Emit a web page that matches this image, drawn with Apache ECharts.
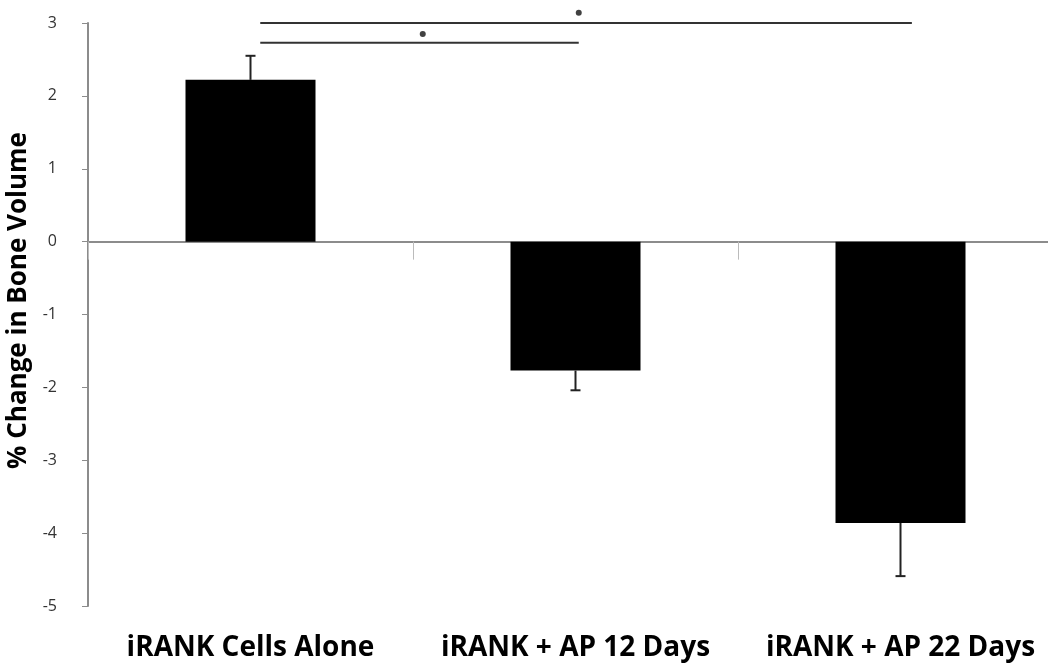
<!DOCTYPE html>
<html>
<head>
<meta charset="utf-8">
<script src="https://cdn.jsdelivr.net/npm/echarts@6/dist/echarts.min.js"></script>
<style>html,body{margin:0;padding:0;background:#fff;}#chart{width:1048px;height:666px;}</style>
</head>
<body>
<div id="chart"></div>
<script>
const categories = ['iRANK Cells Alone', 'iRANK + AP 12 Days', 'iRANK + AP 22 Days'];
const values = [2.22, -1.77, -3.86];
const errorEnds = [2.55, -2.04, -4.59];
const yMin = -5, yMax = 3, yStep = 1;
// significance brackets (x in category units, 0..3 across plot; y in data units)
const bracketFrom = [0.53, 0.53];
const bracketTo = [2.535, 1.51];
const bracketY = [3.0, 2.73];
const starX = [1.51, 1.03];
const starY = [3.14, 2.85];

const chart = echarts.init(document.getElementById('chart'));
const labelFont = '"Open Sans", "Liberation Sans", sans-serif';

const bracketSeries = bracketFrom.map((x0, i) => ({
  type: 'line', xAxisIndex: 2, yAxisIndex: 0, clip: false, symbol: 'none', silent: true,
  lineStyle: { color: '#333', width: 2 },
  data: [[x0, bracketY[i]], [bracketTo[i], bracketY[i]]]
}));

chart.setOption({
  animation: false,
  backgroundColor: '#fff',
  grid: { left: 88, width: 975, top: 23, bottom: 60, outerBoundsMode: 'none', containLabel: false },
  xAxis: [
    { type: 'category', data: categories, position: 'bottom',
      axisLine: { onZero: false, show: false }, axisTick: { show: false },
      axisLabel: { interval: 0, hideOverlap: false, margin: 28, fontSize: 28, fontWeight: 'bold', color: '#000', fontFamily: labelFont } },
    { type: 'category', data: categories, position: 'bottom',
      axisLine: { onZero: true, lineStyle: { color: '#8c8c8c', width: 2 } },
      axisTick: { show: true, alignWithLabel: false, length: 18, inside: false, lineStyle: { color: '#bbb', width: 1 } },
      axisLabel: { show: false } },
    { type: 'value', min: 0, max: 3, show: false }
  ],
  yAxis: {
    type: 'value', min: yMin, max: yMax, interval: yStep,
    name: '% Change in Bone Volume', nameLocation: 'middle', nameGap: 52,
    nameTextStyle: { fontSize: 26, fontWeight: 'bold', color: '#000', fontFamily: labelFont, padding: [0, 0, 0, 28] },
    axisLine: { show: true, lineStyle: { color: '#8c8c8c', width: 2 } },
    axisTick: { show: true, length: 6, lineStyle: { color: '#8c8c8c' } },
    splitLine: { show: false },
    axisLabel: { margin: 31, fontSize: 16, color: '#333', fontFamily: labelFont }
  },
  series: [
    { type: 'bar', xAxisIndex: 0, data: values, barWidth: '40%', itemStyle: { color: '#000' }, silent: true },
    { type: 'custom', xAxisIndex: 0, silent: true,
      data: values.map((v, i) => [i, v, errorEnds[i]]),
      renderItem: function (params, api) {
        const p0 = api.coord([api.value(0), api.value(1)]);
        const p1 = api.coord([api.value(0), api.value(2)]);
        const hw = 5;
        return { type: 'group', children: [
          { type: 'line', shape: { x1: p0[0], y1: p0[1], x2: p1[0], y2: p1[1] }, style: { stroke: '#222', lineWidth: 2 } },
          { type: 'line', shape: { x1: p1[0] - hw, y1: p1[1], x2: p1[0] + hw, y2: p1[1] }, style: { stroke: '#222', lineWidth: 2 } }
        ] };
      } },
    ...bracketSeries,
    { type: 'scatter', xAxisIndex: 2, yAxisIndex: 0, clip: false, silent: true, symbol: 'circle', symbolSize: 6,
      itemStyle: { color: '#111' }, data: starX.map((x, i) => [x, starY[i]]) }
  ]
});
</script>
</body>
</html>
